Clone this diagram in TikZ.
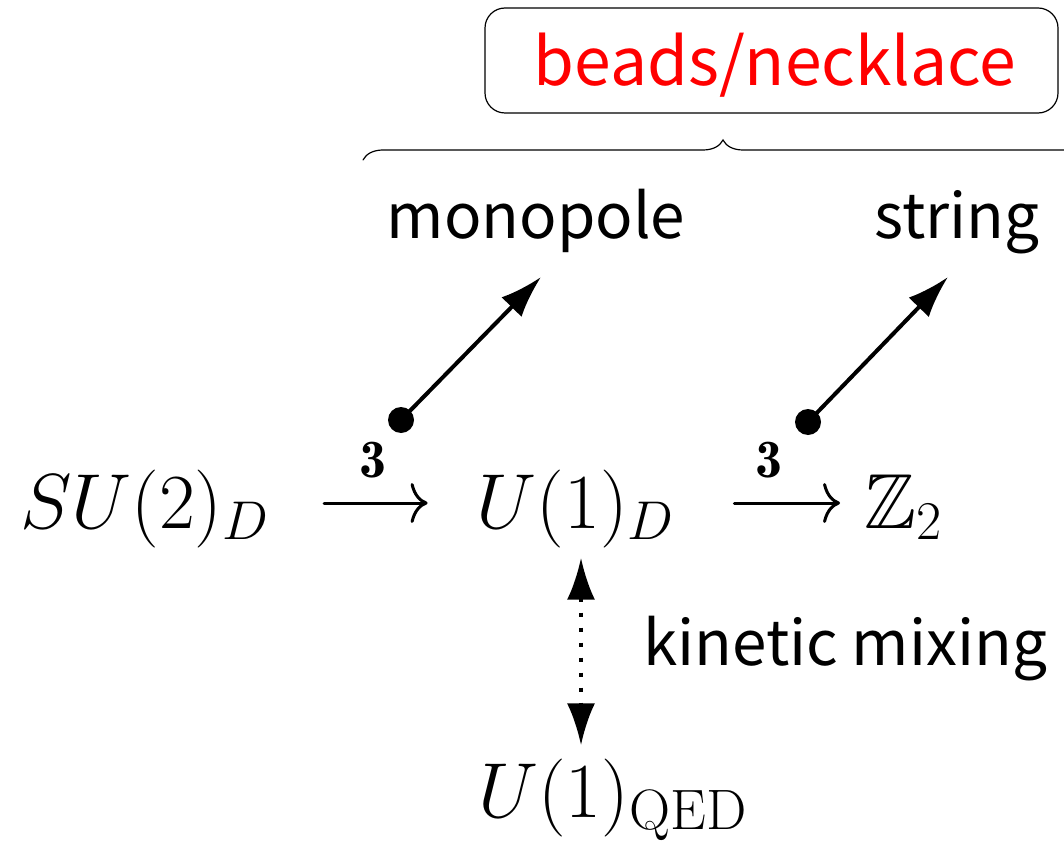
\RequirePackage{fix-cm}
\documentclass[tikz,border=0pt]{standalone}
\usepackage{amsmath,amssymb}
\usepackage{fontspec}
\newfontfamily\jpsans{Noto Sans CJK JP}
\usetikzlibrary{arrows.meta,decorations.pathreplacing}
\begin{document}
\begin{tikzpicture}[x=1pt,y=-1pt,line cap=round,
  grp/.style={inner sep=0pt,anchor=base,font=\fontsize{78}{94}\selectfont},
  word/.style={inner sep=0pt,anchor=base,font=\jpsans\fontsize{62}{74}\selectfont},
  breakto/.style={line width=3pt,-{To[length=17pt,width=40pt]}},
  defect/.style={circle,fill,inner sep=0pt,minimum size=26pt},
  emit/.style={line width=4pt,line cap=butt,-{Latex[length=42pt,width=28pt]}},
  mixing/.style={line width=4pt,line cap=butt,dash pattern=on 4pt off 11pt,
    {Latex[length=42pt,width=28pt]}-{Latex[length=42pt,width=28pt]}}]
  \useasboundingbox (0,0) rectangle (1064,842);
  % groups
  \node[grp] (su2) at (144.5,528) {$SU(2)_D$};
  \node[grp] (u1) at (575.5,528) {$U(1)_D$};
  \node[grp] (z2) at (903,528) {$\mathbb{Z}_2$};
  \node[grp,anchor=base west] (qed) at (478,817) {$U(1)_{\hbox{\fontsize{57}{60}\selectfont QED}}$};
  % breaking chain
  \draw[breakto,shorten <=55pt,shorten >=49pt] ([yshift=25pt]su2.base east) --
    node[above=23pt,inner sep=0pt,font=\fontsize{54}{64}\selectfont] {$\mathbf{3}$}
    ([yshift=25pt]u1.base west);
  \draw[breakto,shorten <=60pt,shorten >=24pt] ([yshift=25pt]u1.base east) --
    node[above=23pt,inner sep=0pt,font=\fontsize{54}{64}\selectfont] {$\mathbf{3}$}
    ([yshift=25pt]z2.base west);
  % defects
  \node[word] (mono) at (536,238) {monopole};
  \node[word] (str) at (957,238) {string};
  \node[defect] (d1) at (401,420) {};
  \node[defect] (d2) at (808,422) {};
  \coordinate (t1) at (541,277);
  \coordinate (t2) at (948,277);
  \draw[emit] (d1.center) -- (t1);
  \draw[emit] (d2.center) -- (t2);
  % composite
  \draw[decorate,decoration={brace,amplitude=20pt},line width=1.2pt] (363,160) -- (1083,160);
  \node[draw,line width=1.2pt,rounded corners=20pt,minimum width=573pt,minimum height=105pt]
    (neck) at (771.5,60.5) {};
  \node[word,text=red,font=\jpsans\fontsize{66}{78}\selectfont] (necktxt) at (775,86) {beads/necklace};
  % mixing
  \draw[mixing,shorten <=10pt,shorten >=13pt] ([xshift=5.5pt]u1.south) -- ([xshift=5.5pt]u1.south |- qed.north);
  \node[word,anchor=base west] (kin) at (643,665) {kinetic mixing};
\end{tikzpicture}
\end{document}
